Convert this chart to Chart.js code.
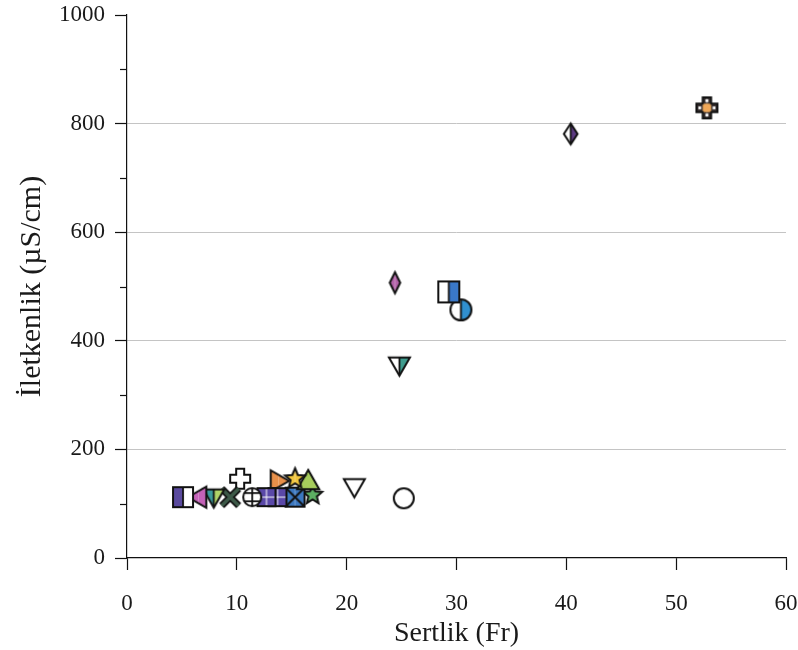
<!DOCTYPE html>
<html>
<head>
<meta charset="utf-8">
<script src="https://cdn.jsdelivr.net/npm/chart.js@4.4.1/dist/chart.umd.min.js"></script>
<style>
  body { margin: 0; background: #fff; }
  canvas { display: block; }
</style>
</head>
<body>
<canvas id="chartSertlik" width="798" height="650"></canvas>
<script>
// DATA
const sertlik    = [5.1, 6.5, 7.9, 9.4, 10.3, 11.4, 12.7, 13.7, 13.8, 15.3, 16.5, 15.3, 16.9, 20.7, 25.2, 24.4, 24.8, 29.3, 30.4, 40.4, 52.8];
const iletkenlik = [112, 112, 112, 112, 146, 112, 112, 112, 142, 146, 142, 112, 116, 131, 110, 507, 355, 490, 457, 781, 829];
const xTicks = [0, 10, 20, 30, 40, 50, 60];
const yTicks = [0, 200, 400, 600, 800, 1000];
const yMinorTicks = [100, 300, 500, 700, 900];

// marker styles (one per point, same order as the data)
const markerStyles = [
  { shape: 'square',   left: '#5a4a9e', right: '#ffffff', size: 20 },
  { shape: 'triLeft',  left: '#c462b8', right: '#c462b8', size: 21 },
  { shape: 'triDown',  left: '#3a9a9a', right: '#b0d468', size: 21 },
  { shape: 'x',        left: '#3d5a48', right: '#3d5a48', size: 20 },
  { shape: 'plus',     left: '#ffffff', right: '#ffffff', size: 20 },
  { shape: 'circle',   left: '#ffffff', right: '#ffffff', size: 18, extra: 'lines' },
  { shape: 'square',   left: '#5a48a8', right: '#5a48a8', size: 18, extra: 'grid' },
  { shape: 'square',   left: '#5a48a8', right: '#5a48a8', size: 18, extra: 'grid' },
  { shape: 'triRight', left: '#e8904a', right: '#e8904a', size: 21 },
  { shape: 'star',     left: '#f2c63e', right: '#f2c63e', size: 21 },
  { shape: 'triUp',    left: '#a6cc5c', right: '#a6cc5c', size: 22 },
  { shape: 'square',   left: '#3c78c0', right: '#3c78c0', size: 19, extra: 'xcross' },
  { shape: 'star',     left: '#5cae62', right: '#5cae62', size: 20 },
  { shape: 'triDown',  left: '#ffffff', right: '#ffffff', size: 21 },
  { shape: 'circle',   left: '#ffffff', right: '#ffffff', size: 20 },
  { shape: 'diamond',  left: '#b463aa', right: '#b463aa', size: 21, thin: true },
  { shape: 'triDown',  left: '#ffffff', right: '#3f9c8e', size: 21 },
  { shape: 'square',   left: '#ffffff', right: '#3a78c8', size: 21 },
  { shape: 'circle',   left: '#ffffff', right: '#3090d0', size: 21 },
  { shape: 'diamond',  left: '#ffffff', right: '#5c3a82', size: 21 },
  { shape: 'plus',     left: '#3a3232', right: '#3a3232', size: 21, extra: 'holes' }
];

// MARKER CANVASES
function tracePath(ctx, shape, m, r, thin) {
  ctx.beginPath();
  switch (shape) {
    case 'square':
      ctx.rect(m - r, m - r, 2 * r, 2 * r);
      break;
    case 'circle':
      ctx.arc(m, m, r, 0, Math.PI * 2);
      break;
    case 'triDown':
      ctx.moveTo(m - r, m - r * 0.75); ctx.lineTo(m + r, m - r * 0.75); ctx.lineTo(m, m + r);
      break;
    case 'triUp':
      ctx.moveTo(m - r, m + r * 0.75); ctx.lineTo(m + r, m + r * 0.75); ctx.lineTo(m, m - r);
      break;
    case 'triLeft':
      ctx.moveTo(m + r * 0.75, m - r); ctx.lineTo(m + r * 0.75, m + r); ctx.lineTo(m - r, m);
      break;
    case 'triRight':
      ctx.moveTo(m - r * 0.75, m - r); ctx.lineTo(m - r * 0.75, m + r); ctx.lineTo(m + r, m);
      break;
    case 'diamond': {
      const w = thin ? r * 0.5 : r * 0.65;
      ctx.moveTo(m, m - r); ctx.lineTo(m + w, m); ctx.lineTo(m, m + r); ctx.lineTo(m - w, m);
      break;
    }
    case 'plus': {
      const t = r * 0.4;
      ctx.moveTo(m - t, m - r); ctx.lineTo(m + t, m - r); ctx.lineTo(m + t, m - t);
      ctx.lineTo(m + r, m - t); ctx.lineTo(m + r, m + t); ctx.lineTo(m + t, m + t);
      ctx.lineTo(m + t, m + r); ctx.lineTo(m - t, m + r); ctx.lineTo(m - t, m + t);
      ctx.lineTo(m - r, m + t); ctx.lineTo(m - r, m - t); ctx.lineTo(m - t, m - t);
      break;
    }
    case 'star':
      for (let i = 0; i < 10; i++) {
        const rr = i % 2 === 0 ? r : r * 0.45;
        const a = -Math.PI / 2 + i * Math.PI / 5;
        const px = m + rr * Math.cos(a), py = m + rr * Math.sin(a);
        if (i === 0) ctx.moveTo(px, py); else ctx.lineTo(px, py);
      }
      break;
  }
  ctx.closePath();
}

function makeMarker(st) {
  const pad = 4;
  const c = document.createElement('canvas');
  c.width = c.height = st.size + pad * 2;
  const ctx = c.getContext('2d');
  const m = c.width / 2, r = st.size / 2;

  if (st.shape === 'x') {
    const d = r * 0.85;
    ctx.lineCap = 'butt';
    [[7, '#111'], [3.5, st.left]].forEach(([lw, col]) => {
      ctx.lineWidth = lw; ctx.strokeStyle = col;
      ctx.beginPath();
      ctx.moveTo(m - d, m - d); ctx.lineTo(m + d, m + d);
      ctx.moveTo(m + d, m - d); ctx.lineTo(m - d, m + d);
      ctx.stroke();
    });
    return c;
  }

  tracePath(ctx, st.shape, m, r, st.thin);
  ctx.save(); ctx.clip();
  ctx.fillStyle = st.left; ctx.fillRect(0, 0, m, c.height);
  ctx.fillStyle = st.right; ctx.fillRect(m, 0, c.width - m, c.height);
  ctx.strokeStyle = '#111'; ctx.lineWidth = 1.8;
  if (st.left !== st.right) {
    ctx.beginPath(); ctx.moveTo(m, 0); ctx.lineTo(m, c.height); ctx.stroke();
  }
  if (st.extra === 'grid') {
    ctx.strokeStyle = '#ffffff'; ctx.lineWidth = 1;
    ctx.beginPath();
    ctx.moveTo(m, 0); ctx.lineTo(m, c.height);
    ctx.moveTo(0, m); ctx.lineTo(c.width, m);
    ctx.stroke();
  }
  if (st.extra === 'lines') {
    ctx.beginPath();
    ctx.moveTo(m, 0); ctx.lineTo(m, c.height);
    ctx.moveTo(0, m - r * 0.45); ctx.lineTo(c.width, m - r * 0.45);
    ctx.moveTo(0, m + r * 0.45); ctx.lineTo(c.width, m + r * 0.45);
    ctx.stroke();
  }
  if (st.extra === 'xcross') {
    ctx.lineWidth = 2;
    ctx.beginPath();
    ctx.moveTo(m - r, m - r); ctx.lineTo(m + r, m + r);
    ctx.moveTo(m + r, m - r); ctx.lineTo(m - r, m + r);
    ctx.stroke();
  }
  if (st.extra === 'holes') {
    const t = r * 0.4;
    ctx.fillStyle = '#f0a858';
    ctx.fillRect(m - t, m - t, 2 * t, 2 * t);
    ctx.fillStyle = '#ffffff';
    const h = 2.8, off = r * 0.68;
    [[0, -off], [0, off], [-off, 0], [off, 0]].forEach(([dx, dy]) => {
      ctx.fillRect(m + dx - h / 2, m + dy - h / 2, h, h);
    });
  }
  ctx.restore();

  tracePath(ctx, st.shape, m, r, st.thin);
  ctx.strokeStyle = '#111'; ctx.lineWidth = 2; ctx.lineJoin = 'miter';
  ctx.stroke();
  return c;
}

// MINOR TICKS ON Y AXIS
const minorTickPlugin = {
  id: 'minorTicks',
  afterDraw(chart) {
    const y = chart.scales.y;
    const ctx = chart.ctx;
    ctx.save();
    ctx.strokeStyle = '#111'; ctx.lineWidth = 1.2;
    yMinorTicks.forEach(v => {
      const py = Math.round(y.getPixelForValue(v)) + 0.5;
      ctx.beginPath(); ctx.moveTo(y.right - 7, py); ctx.lineTo(y.right, py); ctx.stroke();
    });
    ctx.restore();
  }
};

// CHART
const datasets = sertlik.map((x, i) => ({
  label: 'p' + (i + 1),
  data: [{ x, y: iletkenlik[i] }],
  pointStyle: makeMarker(markerStyles[i]),
  pointRadius: 10
}));

const serif = "'Liberation Serif', 'Times New Roman', serif";

new Chart(document.getElementById('chartSertlik'), {
  type: 'scatter',
  data: { datasets },
  plugins: [minorTickPlugin],
  options: {
    responsive: false,
    animation: false,
    layout: { padding: { top: 15, right: 12, left: 0, bottom: 0 } },
    plugins: {
      legend: { display: false },
      tooltip: { enabled: false }
    },
    scales: {
      x: {
        type: 'linear',
        min: 0, max: 60,
        afterBuildTicks: s => { s.ticks = xTicks.map(v => ({ value: v })); },
        afterFit: s => { s.height = 92; s.paddingLeft = 0; s.paddingRight = 0; },
        border: { color: '#111', width: 1.2 },
        grid: { drawOnChartArea: false, tickLength: 12, tickColor: '#111', tickWidth: 1.2 },
        ticks: { color: '#1a1a1a', font: { family: serif, size: 23 }, padding: 20, callback: v => String(v) },
        title: { display: true, text: 'Sertlik (Fr)', color: '#1a1a1a', font: { family: serif, size: 28 }, padding: { top: 0, bottom: 0 } }
      },
      y: {
        min: 0, max: 1000,
        afterBuildTicks: s => { s.ticks = yTicks.map(v => ({ value: v })); },
        afterFit: s => { s.width = 127; s.paddingTop = 0; s.paddingBottom = 0; },
        border: { color: '#111', width: 1.2 },
        grid: {
          color: ctx => (ctx.tick && ctx.tick.value > 0 && ctx.tick.value < 1000) ? '#c4c4c4' : 'rgba(0,0,0,0)',
          tickColor: '#111', tickLength: 12, tickWidth: 1.2
        },
        ticks: { color: '#1a1a1a', font: { family: serif, size: 23 }, padding: 10, callback: v => String(v) },
        title: { display: true, text: 'İletkenlik (µS/cm)', color: '#1a1a1a', font: { family: serif, size: 30 }, padding: { top: 14, bottom: 0 } }
      }
    }
  }
});
</script>
</body>
</html>
